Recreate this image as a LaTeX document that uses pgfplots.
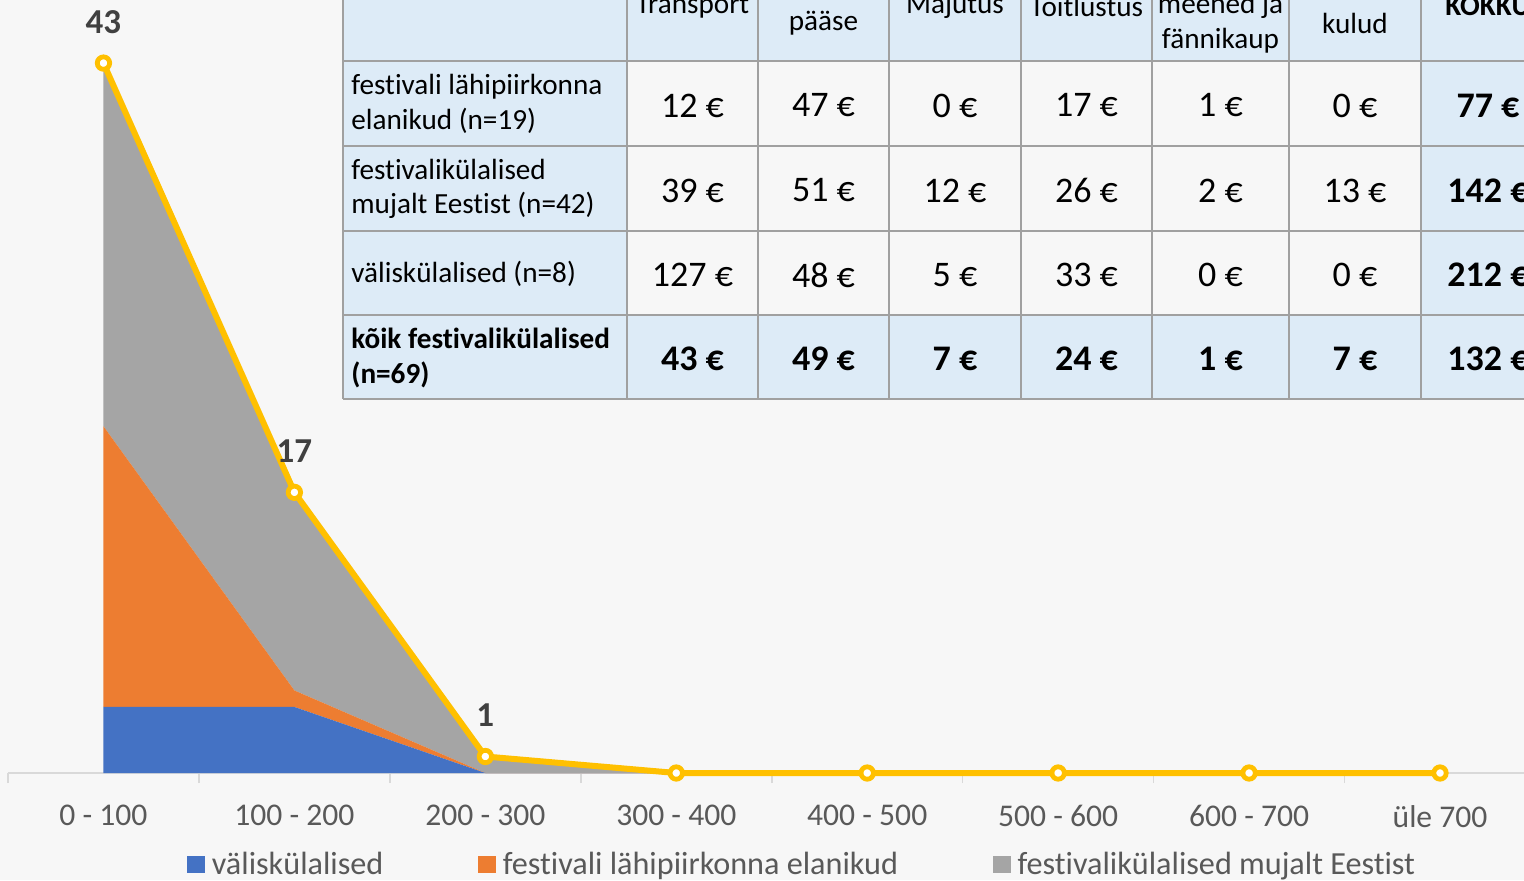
\documentclass[border=0pt]{standalone}
\usepackage{pgfplots}
\pgfplotsset{compat=1.18}
\usepackage{fontspec}
\setmainfont{Carlito}[RawFeature={-liga;-clig;-dlig;-calt}]
\definecolor{bg}{HTML}{F7F7F7}
\definecolor{cblue}{HTML}{4472C4}
\definecolor{corange}{HTML}{ED7D31}
\definecolor{cgray}{HTML}{A5A5A5}
\definecolor{cgold}{HTML}{FFC000}
\definecolor{lblue}{HTML}{DDEBF7}
\definecolor{tgrid}{HTML}{A0A0A0}
\definecolor{axgray}{HTML}{D9D9D9}
\definecolor{lab}{HTML}{595959}
\definecolor{dlab}{HTML}{404040}
\newcommand{\tf}{\fontsize{14.6pt}{17.3pt}\selectfont}
\newcommand{\vf}{\fontsize{18pt}{20pt}\selectfont}
\begin{document}
\begin{tikzpicture}
\useasboundingbox (0,0) rectangle (762pt,440pt);
\clip (0,0) rectangle (762pt,440pt);
\fill[bg] (0,0) rectangle (762pt,440pt);
\pgfplotsset{base/.style={
  at={(4pt,53.5pt)}, anchor=south west, scale only axis,
  width=763.75pt, height=386.5pt,
  xmin=-0.5, xmax=7.5, ymin=0, ymax=46.82, clip=false,
  /pgf/number format/assume math mode=true}}
\begin{axis}[base, stack plots=y,
  axis y line=none, axis x line*=bottom,
  x axis line style={axgray, line width=0.75pt},
  xtick={0,...,7},
  xticklabels={0 - 100, 100 - 200, 200 - 300, 300 - 400, 400 - 500, 500 - 600, 600 - 700, üle 700},
  major tick length=0pt,
  minor xtick={-0.5,0.5,...,7.5},
  minor tick length=5pt, tick align=outside,
  minor tick style={axgray, line width=0.75pt},
  xticklabel style={font=\fontsize{15.8pt}{18pt}\selectfont, text=lab, yshift=-12.5pt},
  legend style={at={(axis description cs:0.1175,-0.1185)}, anchor=west,
    draw=none, fill=none, inner sep=0pt, outer sep=0pt,
    font=\fontsize{16.1pt}{18pt}\selectfont, text=lab,
    nodes={inner xsep=0pt, inner ysep=0pt},
    /tikz/every odd column/.append style={column sep=3.5pt},
    /tikz/every even column/.append style={column sep=47.5pt}},
  legend columns=3, legend cell align=left,
  legend image code/.code={\fill[#1] (0pt,-4.4pt) rectangle (8.7pt,4.4pt);}
]
\addplot[fill=cblue, draw=none] coordinates {(0,4)(1,4)(2,0)(3,0)(4,0)(5,0)(6,0)(7,0)} \closedcycle;
\addplot[fill=corange, draw=none] coordinates {(0,17)(1,1)(2,0)(3,0)(4,0)(5,0)(6,0)(7,0)} \closedcycle;
\addplot[fill=cgray, draw=none] coordinates {(0,22)(1,12)(2,1)(3,0)(4,0)(5,0)(6,0)(7,0)} \closedcycle;
\legend{väliskülalised, festivali lähipiirkonna elanikud, festivalikülalised mujalt Eestist}
\end{axis}
\begin{axis}[base, hide axis]
\addplot[cgold, line width=3pt, mark=*, mark size=3.1pt,
  mark options={fill=white, draw=cgold, line width=2.4pt}]
  coordinates {(0,43)(1,17)(2,1)(3,0)(4,0)(5,0)(6,0)(7,0)};
\addplot[draw=none, mark=none, nodes near coords,
  nodes near coords style={anchor=center, yshift=20.5pt,
    font=\bfseries\fontsize{17.5pt}{20pt}\selectfont, text=dlab}]
  coordinates {(0,43)(1,17)(2,1)};
\end{axis}
\begin{scope}[x=0.5pt,y=-0.5pt,shift={(0pt,440pt)}]
\fill[lblue] (343,-60) rectangle (1560,61);
\fill[lblue] (343,61) rectangle (627,399);
\fill[lblue] (627,315) rectangle (1560,399);
\fill[lblue] (1421,61) rectangle (1560,399);
\foreach \x in {343,627,758,889,1021,1152,1289,1421}
  \draw[tgrid, line width=0.6pt] (\x,-60) -- (\x,399);
\foreach \y in {61,146,231,315,399}
  \draw[tgrid, line width=0.6pt] (343,\y) -- (1560,\y);
% header
\node[font=\tf, align=center] at (692.5,6) {Transport};
\node[font=\tf, align=center] at (823.5,6) {Sisse-\\pääse};
\node[font=\tf, align=center] at (955,6) {Majutus};
\node[font=\tf, align=center] at (1086.5,6) {Toitlustus};
\node[font=\tf, align=center] at (1220.5,6) {Suveniirid,\\meened ja\\fännikaup};
\node[font=\tf, align=center] at (1355,6) {Muud\\kulud};
\node[font=\tf\bfseries, align=center] at (1488,6) {KOKKU};
% row labels
\node[font=\tf, align=left, anchor=west, inner xsep=0pt] at (351,104) {festivali lähipiirkonna\\elanikud (n=19)};
\node[font=\tf, align=left, anchor=west, inner xsep=0pt] at (351,189) {festivalikülalised\\mujalt Eestist (n=42)};
\node[font=\tf, align=left, anchor=west, inner xsep=0pt] at (351,274) {väliskülalised (n=8)};
\node[font=\tf\bfseries, align=left, anchor=west, inner xsep=0pt] at (351,358) {kõik festivalikülalised\\(n=69)};
% values
\foreach \yy/\a/\b/\c/\d/\e/\f/\g in {105.5/12/47/0/17/1/0/77, 190.5/39/51/12/26/2/13/142, 275/127/48/5/33/0/0/212}{
  \node[font=\vf] at (692.5,\yy) {\a\ €};
  \node[font=\vf] at (823.5,\yy) {\b\ €};
  \node[font=\vf] at (955,\yy) {\c\ €};
  \node[font=\vf] at (1086.5,\yy) {\d\ €};
  \node[font=\vf] at (1220.5,\yy) {\e\ €};
  \node[font=\vf] at (1355,\yy) {\f\ €};
  \node[font=\vf\bfseries] at (1488,\yy) {\g\ €};
}
\foreach \xx/\v in {692.5/43, 823.5/49, 955/7, 1086.5/24, 1220.5/1, 1355/7, 1488/132}
  \node[font=\vf\bfseries] at (\xx,359) {\v\ €};
\end{scope}
\end{tikzpicture}
\end{document}
